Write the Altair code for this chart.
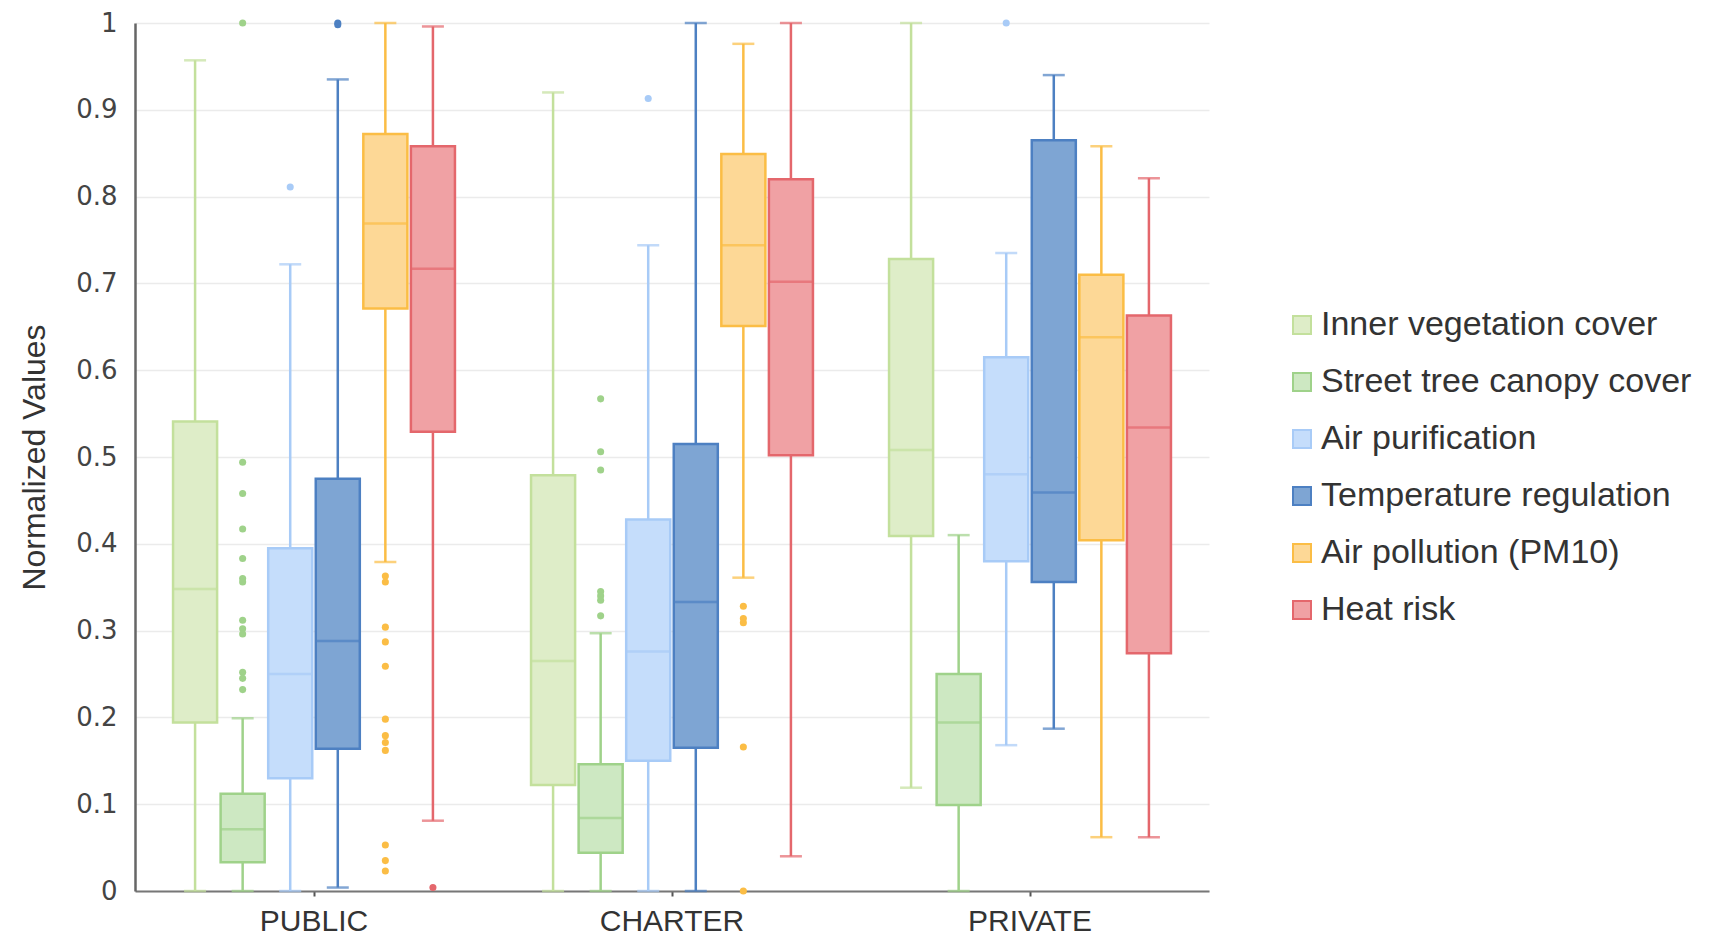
import altair as alt
import pandas as pd

categories = ["PUBLIC", "CHARTER", "PRIVATE"]
series = ["Inner vegetation cover", "Street tree canopy cover", "Air purification",
          "Temperature regulation", "Air pollution (PM10)", "Heat risk"]

fills = ["#deedc8", "#cde8c2", "#c5ddfb", "#7ea5d3", "#fdd896", "#f0a1a4"]
strokes = ["#c3e09c", "#9fd28a", "#a8cbf7", "#4d80c2", "#fbbd45", "#e4676c"]

# box statistics, ordered category-major, series-minor
whisker_low = [0.000, 0.000, 0.000, 0.004, 0.379, 0.081,
               0.000, 0.000, 0.000, 0.000, 0.361, 0.040,
               0.119, 0.000, 0.168, 0.187, 0.062, 0.062]
q1 = [0.194, 0.033, 0.130, 0.164, 0.671, 0.529,
      0.122, 0.044, 0.150, 0.165, 0.651, 0.502,
      0.409, 0.099, 0.380, 0.356, 0.404, 0.274]
median = [0.348, 0.071, 0.250, 0.288, 0.769, 0.717,
          0.265, 0.084, 0.276, 0.333, 0.744, 0.702,
          0.508, 0.194, 0.480, 0.459, 0.638, 0.534]
q3 = [0.541, 0.112, 0.395, 0.475, 0.872, 0.858,
      0.479, 0.146, 0.428, 0.515, 0.849, 0.820,
      0.728, 0.250, 0.615, 0.865, 0.710, 0.663]
whisker_high = [0.957, 0.199, 0.722, 0.935, 1.000, 0.996,
                0.920, 0.297, 0.744, 1.000, 0.976, 1.000,
                1.000, 0.410, 0.735, 0.940, 0.858, 0.821]

out_category = (["PUBLIC"] * 13 + ["PUBLIC"] + ["PUBLIC"] * 2 + ["PUBLIC"] * 12 + ["PUBLIC"]
                + ["CHARTER"] * 7 + ["CHARTER"] + ["CHARTER"] * 5 + ["PRIVATE"])
out_series = ([series[1]] * 13 + [series[2]] + [series[3]] * 2 + [series[4]] * 12 + [series[5]]
              + [series[1]] * 7 + [series[2]] + [series[4]] * 5 + [series[2]])
out_value = ([1.0, 0.494, 0.458, 0.417, 0.383, 0.360, 0.356, 0.312, 0.302, 0.296, 0.252, 0.245, 0.232]
             + [0.811] + [1.0, 0.998]
             + [0.363, 0.356, 0.304, 0.287, 0.259, 0.198, 0.179, 0.171, 0.162, 0.053, 0.035, 0.023]
             + [0.004]
             + [0.567, 0.506, 0.485, 0.345, 0.340, 0.335, 0.317]
             + [0.913]
             + [0.328, 0.314, 0.309, 0.166, 0.0]
             + [1.0])

rows = []
i = 0
for c in categories:
    for s in series:
        rows.append(dict(category=c, series=s, lo=whisker_low[i], q1=q1[i],
                         med=median[i], q3=q3[i], hi=whisker_high[i]))
        i += 1
df = pd.DataFrame(rows)
odf = pd.DataFrame(dict(category=out_category, series=out_series, value=out_value))

FONT = "Liberation Sans"

x_enc = alt.X("category:N", sort=categories, title=None,
              scale=alt.Scale(domain=categories, paddingInner=0, paddingOuter=0),
              axis=alt.Axis(labelAngle=0, labelFontSize=30, labelFont=FONT, labelColor="#333",
                            labelPadding=10, tickSize=5, tickColor="#555", tickWidth=2,
                            domainColor="#777", domainWidth=2, grid=False, labelBaseline="top"))
xoff_enc = alt.XOffset("series:N", sort=series,
                       scale=alt.Scale(domain=series, paddingInner=0.074, paddingOuter=0.8))
y_scale = alt.Scale(domain=[0, 1], nice=False, zero=True)
y_axis = alt.Axis(values=[i / 10 for i in range(11)], format="~g", title="Normalized Values",
                  titleFontSize=32, titleFont=FONT, titleFontWeight="normal", titleColor="#333",
                  titlePadding=24, labelFontSize=26, labelFont="DejaVu Sans", labelColor="#444",
                  labelPadding=18, ticks=False, domainColor="#666", domainWidth=2.5,
                  gridColor="#ebebeb", gridWidth=1.5)

# data-derived domain (not explicit) so this hidden legend does not swallow the fill/stroke legend
color_enc = alt.Color("series:N", sort=series, scale=alt.Scale(range=strokes), legend=None)

base = alt.Chart(df).encode(x=x_enc, xOffset=xoff_enc)

whiskers = base.mark_rule(strokeWidth=2.5).encode(
    y=alt.Y("lo:Q", scale=y_scale, axis=y_axis), y2="hi:Q", color=color_enc)

legend = alt.Legend(title=None, orient="none", legendX=1150, legendY=285,
                    symbolType="square", symbolSize=324, symbolStrokeWidth=2,
                    labelFontSize=34, labelFont=FONT, labelColor="#333",
                    labelOffset=2, rowPadding=23, labelLimit=600)

boxes = base.mark_bar(strokeWidth=2.5).encode(
    y=alt.Y("q1:Q", scale=y_scale), y2="q3:Q",
    fill=alt.Fill("series:N", scale=alt.Scale(domain=series, range=fills), legend=legend),
    stroke=alt.Stroke("series:N", scale=alt.Scale(domain=series, range=strokes), legend=legend))

medians = base.mark_tick(size=44, thickness=2.5).encode(y=alt.Y("med:Q", scale=y_scale), color=color_enc)
cap_hi = base.mark_tick(size=22, thickness=2.5).encode(y=alt.Y("hi:Q", scale=y_scale), color=color_enc)
cap_lo = base.mark_tick(size=22, thickness=2.5).encode(y=alt.Y("lo:Q", scale=y_scale), color=color_enc)

outliers = alt.Chart(odf).mark_circle(size=50, opacity=1).encode(
    x=x_enc, xOffset=xoff_enc, y=alt.Y("value:Q", scale=y_scale), color=color_enc)

chart = alt.layer(whiskers, boxes, medians, cap_hi, cap_lo, outliers).properties(
    width=1074, height=868,
    autosize=alt.AutoSizeParams(type="none"),
    padding={"left": 127, "top": 15, "right": 494, "bottom": 44},
).configure_view(stroke=None).configure_axis(grid=True)

chart.save("out.html", embed_options={"renderer": "svg", "actions": False})
